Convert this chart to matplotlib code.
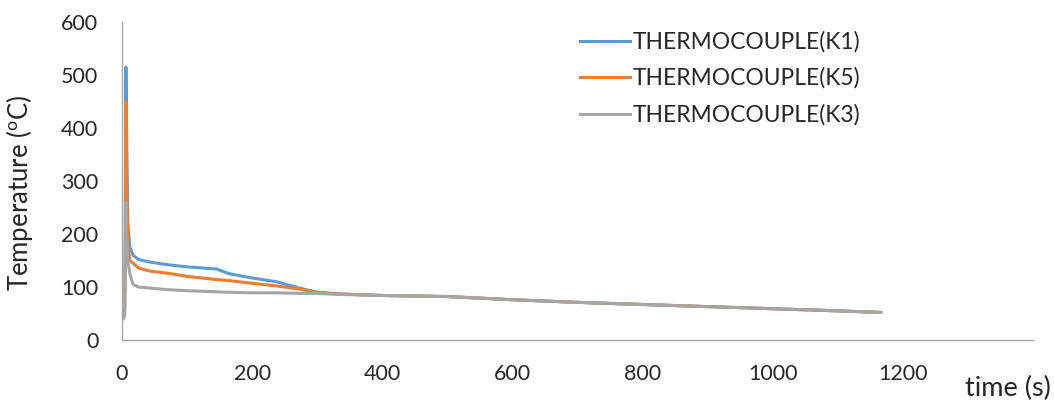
import matplotlib
matplotlib.use("Agg")
import matplotlib.pyplot as plt

# Cooling record of three K-type thermocouples
time_s = [0, 2, 4, 5, 6, 7, 9, 12, 17, 25, 43, 70, 100, 145, 165, 200, 237,
          273, 300, 330, 400, 500, 600, 700, 800, 900, 1000, 1100, 1166]
temp_k1 = [45, 45, 50, 200, 515, 400, 220, 175, 160, 152, 147, 142, 138, 134,
           125, 117, 110, 98, 90, 87, 84, 82, 76, 71, 67, 63, 59, 55, 52]
temp_k5 = [55, 58, 60, 150, 449, 300, 180, 150, 145, 136, 130, 126, 120, 114,
           112, 107, 102, 96, 90, 87, 84, 82, 76, 71, 67, 63, 59, 55, 52]
temp_k3 = [38, 40, 45, 150, 260, 200, 150, 125, 105, 100, 98, 95, 93, 91, 90,
           89, 89, 88, 88, 86, 84, 82, 76, 71, 67, 63, 59, 55, 52]

series_labels = ["THERMOCOUPLE(K1)", "THERMOCOUPLE(K5)", "THERMOCOUPLE(K3)"]
series_colors = ["#5B9BD5", "#ED7D31", "#A5A5A5"]
x_ticks = [0, 200, 400, 600, 800, 1000, 1200]
y_ticks = [0, 100, 200, 300, 400, 500, 600]

plt.rcParams["font.family"] = ["Lato", "DejaVu Sans"]
plt.rcParams["mathtext.fontset"] = "custom"
plt.rcParams["mathtext.rm"] = "Lato"
plt.rcParams["mathtext.it"] = "Lato"

W, H = 1054, 400
fig = plt.figure(figsize=(W / 100, H / 100), dpi=100)
left, right, top, bottom = 122, 1033, 22, 340
ax = fig.add_axes([left / W, (H - bottom) / H, (right - left) / W, (bottom - top) / H])

for ys, lab, col in zip([temp_k1, temp_k5, temp_k3], series_labels, series_colors):
    ax.plot(time_s, ys, color=col, lw=2.2, label=lab, solid_joinstyle="round")

ax.set_xlim(0, 1400)
ax.set_ylim(0, 600)
ax.set_xticks(x_ticks)
ax.set_yticks(y_ticks)

text_col = "#262626"
ax.tick_params(axis="both", length=0, labelsize=15.5, colors=text_col)
ax.tick_params(axis="y", pad=17)
ax.tick_params(axis="x", pad=17)

for s in ["top", "right"]:
    ax.spines[s].set_visible(False)
for s in ["left", "bottom"]:
    ax.spines[s].set_color("#A6A6A6")
    ax.spines[s].set_linewidth(1.0)

fig.text(20 / W, 1 - 193 / H, r"Temperature ($^{\mathrm{o}}$C)", rotation=90,
         ha="center", va="center", fontsize=18.5, color=text_col)
fig.text(1008 / W, 1 - 388 / H, "time (s)", ha="center", va="center",
         fontsize=19.5, color=text_col)

leg = ax.legend(loc="upper left", bbox_to_anchor=(580 / W, 1 - 31 / H),
                bbox_transform=fig.transFigure, frameon=False, fontsize=16.4,
                handlelength=2.2, handletextpad=0.13, labelspacing=0.66,
                borderpad=0, borderaxespad=0)
for t in leg.get_texts():
    t.set_color(text_col)

fig.savefig("out.png", dpi=100, facecolor="white")
